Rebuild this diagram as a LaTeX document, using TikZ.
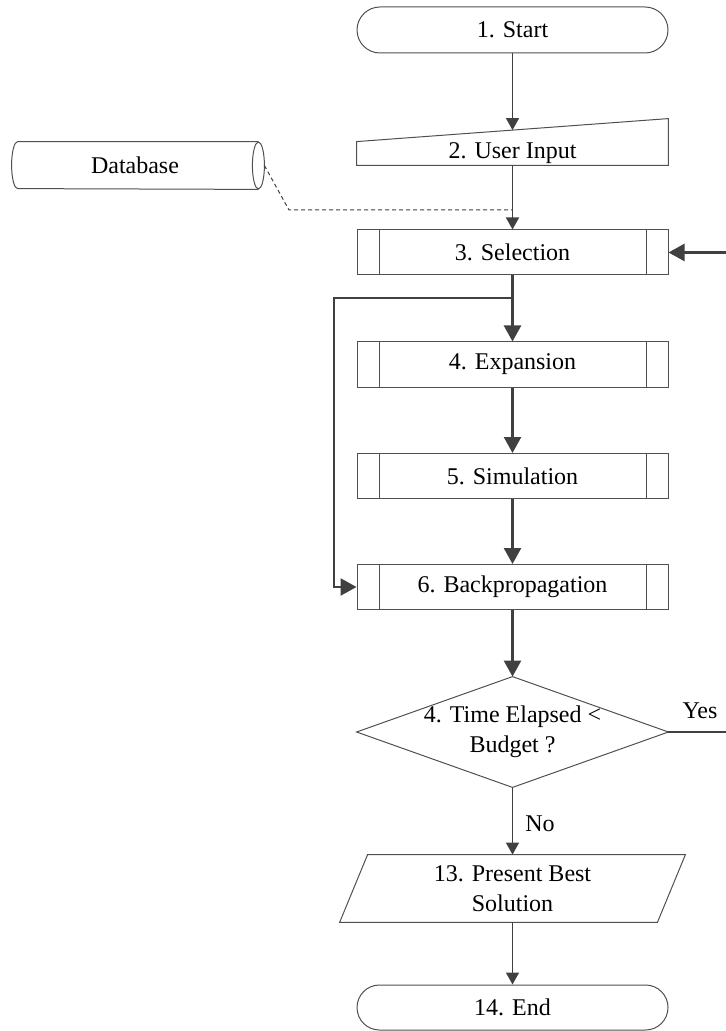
\documentclass[tikz,border=0pt]{standalone}
\usepackage{fontspec}
\setmainfont{Liberation Serif}
\usetikzlibrary{arrows.meta}
\definecolor{ln}{HTML}{404040}
\definecolor{bd}{HTML}{505050}
\tikzset{
  txt/.style={font=\fontsize{12}{15}\selectfont, align=center, inner sep=0pt},
  outline/.style={draw=bd, line width=0.5pt},
  term/.style={txt, outline, rounded corners=11.5pt, minimum width=155.5pt, minimum height=23pt},
  proc/.style={txt, outline, minimum width=155.5pt, minimum height=22.5pt,
    path picture={\draw[bd, line width=0.5pt]
      ([xshift=11pt]path picture bounding box.north west) -- ([xshift=11pt]path picture bounding box.south west)
      ([xshift=-11pt]path picture bounding box.north east) -- ([xshift=-11pt]path picture bounding box.south east);}},
  flowthin/.style={ln, line width=0.7pt, -{Triangle[length=6pt,width=6.5pt]}},
  flowthick/.style={ln, line width=1.25pt, -{Triangle[length=8pt,width=8.5pt]}},
  dbline/.style={ln, line width=0.5pt, dash pattern=on 2pt off 1.5pt},
}
\begin{document}
\begin{tikzpicture}[x=0.5pt, y=-0.5pt]
\useasboundingbox (0,0) rectangle (725,1031);

% main column
\node[term] (start) at (512.5,30) {1. Start};
\node[txt, minimum width=155.5pt, minimum height=11.5pt] (ui) at (512.5,153.5) {2. User Input};
\draw[outline] (ui.south west) -- (ui.north west) -- ([yshift=11.5pt]ui.north east) -- (ui.south east) -- cycle;
\coordinate (uitop) at ([yshift=5.75pt]ui.north);

\node[proc] (sel) at (512.5,252.5) {3. Selection};
\node[proc] (exp) at (512.5,364.5) {4. Expansion};
\node[proc] (sim) at (512.5,476) {5. Simulation};
\node[proc] (bp)  at (512.5,587) {6. Backpropagation};

\node[txt, minimum width=155.5pt, minimum height=55pt] (dia) at (512.5,732) {4. Time Elapsed <\\Budget ?};
\draw[outline] (dia.north) -- (dia.east) -- (dia.south) -- (dia.west) -- cycle;

\node[txt, minimum width=158.5pt, minimum height=33.5pt] (pb) at (512.5,888.5) {13. Present Best\\Solution};
\draw[outline] ([xshift=7pt]pb.north west) -- ([xshift=7pt]pb.north east) -- ([xshift=-7pt]pb.south east) -- ([xshift=-7pt]pb.south west) -- cycle;

\node[term, minimum height=22.5pt, rounded corners=11.25pt] (end) at (512.5,1007.5) {14. End};

% database cylinder
\node[txt, minimum width=117pt, minimum height=23.5pt] (db) at (135,165.5) {Database};
\draw[outline] ([xshift=3pt]db.north east) -- (db.north west)
  arc[start angle=90, end angle=270, x radius=3pt, y radius=11.75pt]
  -- ([xshift=3pt]db.south east);
\draw[outline] ([xshift=3pt]db.east) ellipse [x radius=3pt, y radius=11.75pt];
\coordinate (dbout) at ([xshift=6pt]db.east);
\coordinate (dbbend) at (289,210);
\coordinate (join) at (512.5,210);
\draw[dbline] (dbout) -- (dbbend) -- (join);

% connectors
\draw[flowthin] (start.south) -- (uitop);
\draw[flowthin] (ui.south) -- (sel.north);
\draw[flowthick] (sel.south) -- (exp.north);
\draw[flowthick] (exp.south) -- (sim.north);
\draw[flowthick] (sim.south) -- (bp.north);
\draw[flowthick] (bp.south) -- (dia.north);
\draw[flowthin] (dia.south) -- (pb.north);
\draw[flowthin] (pb.south) -- (end.north);

% shortcut from selection to backpropagation
\coordinate (split) at (512.5,298);
\coordinate (leftx) at (334,298);
\draw[flowthick] (split) -- (leftx) |- (bp.west);

% loop back to selection
\coordinate (rightlow) at (728,732);
\coordinate (righthigh) at (728,252.5);
\draw[flowthick] (dia.east) -- (rightlow) -- (righthigh) -- (sel.east);

% branch labels
\node[txt] (yes) at (700,711) {Yes};
\node[txt] (no) at (540,824) {No};
\end{tikzpicture}
\end{document}
